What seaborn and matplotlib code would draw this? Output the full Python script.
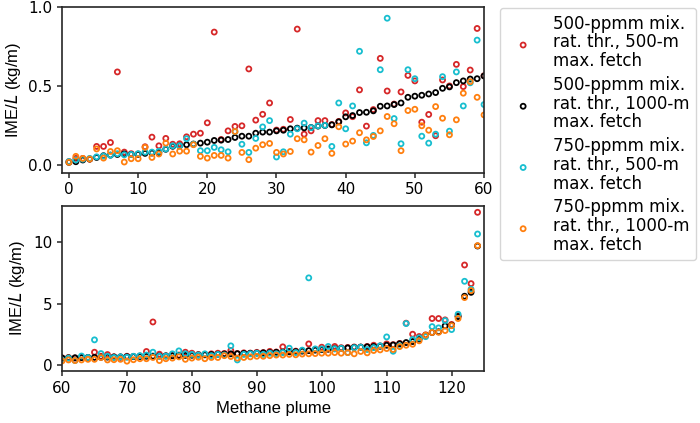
import numpy as np
import pandas as pd
import matplotlib
matplotlib.use("Agg")
import matplotlib.pyplot as plt
import seaborn as sns

# IME/L (kg/m) per methane plume, four settings
ime_500ppmm_500m = [
    0.02, 0.04, 0.04, 0.035, 0.116, 0.116, 0.141, 0.589, 0.08, 0.07,
    0.068, 0.114, 0.175, 0.12, 0.167, 0.13, 0.133, 0.177, 0.194, 0.2,
    0.266, 0.842, 0.16, 0.215, 0.243, 0.247, 0.608, 0.283, 0.32, 0.392,
    0.22, 0.225, 0.287, 0.861, 0.194, 0.215, 0.28, 0.28, 0.255, 0.275,
    0.329, 0.305, 0.475, 0.245, 0.35, 0.675, 0.468, 0.385, 0.462, 0.567,
    0.532, 0.27, 0.319, 0.184, 0.538, 0.5, 0.637, 0.496, 0.601, 0.865,
    0.565, 0.6, 0.55, 0.62, 0.6, 1.03, 0.7, 0.84, 0.66, 0.62,
    0.7, 0.68, 0.72, 1.09, 3.5, 0.87, 0.74, 0.76, 0.8, 1.03,
    0.95, 0.85, 0.84, 0.9, 0.95, 0.93, 1.17, 0.92, 0.98, 0.96,
    1.02, 1.0, 1.1, 1.05, 1.47, 1.1, 1.12, 1.15, 1.71, 1.25,
    1.44, 1.3, 1.5, 1.4, 1.42, 1.46, 1.45, 1.5, 1.6, 1.55,
    1.71, 1.65, 1.75, 3.4, 2.5, 2.31, 2.45, 3.78, 3.78, 3.67,
    3.3, 4.0, 8.15, 6.63, 12.45,
]
ime_500ppmm_1000m = [
    0.015, 0.019, 0.03, 0.036, 0.046, 0.057, 0.061, 0.065, 0.068, 0.065,
    0.066, 0.072, 0.074, 0.078, 0.098, 0.117, 0.12, 0.127, 0.131, 0.137,
    0.143, 0.154, 0.156, 0.16, 0.173, 0.181, 0.181, 0.2, 0.207, 0.207,
    0.215, 0.219, 0.228, 0.232, 0.234, 0.236, 0.245, 0.249, 0.253, 0.272,
    0.304, 0.312, 0.331, 0.333, 0.342, 0.371, 0.373, 0.382, 0.392, 0.428,
    0.435, 0.441, 0.449, 0.458, 0.485, 0.494, 0.521, 0.532, 0.544, 0.546,
    0.563, 0.57, 0.58, 0.59, 0.6, 0.61, 0.62, 0.63, 0.64, 0.65,
    0.66, 0.67, 0.68, 0.7, 0.71, 0.72, 0.73, 0.74, 0.75, 0.77,
    0.78, 0.8, 0.82, 0.84, 0.86, 0.88, 0.9, 0.91, 0.93, 0.94,
    0.96, 0.98, 1.0, 1.02, 1.04, 1.06, 1.08, 1.12, 1.16, 1.2,
    1.24, 1.28, 1.32, 1.35, 1.38, 1.42, 1.45, 1.47, 1.5, 1.52,
    1.6, 1.62, 1.72, 1.82, 1.9, 2.1, 2.4, 2.64, 2.7, 3.18,
    3.23, 3.94, 5.6, 5.92, 9.7,
]
ime_750ppmm_500m = [
    0.02, 0.03, 0.035, 0.04, 0.05, 0.055, 0.06, 0.07, 0.063, 0.065,
    0.07, 0.08, 0.08, 0.085, 0.1, 0.12, 0.12, 0.165, 0.13, 0.089,
    0.089, 0.11, 0.095, 0.082, 0.21, 0.13, 0.078, 0.167, 0.24, 0.28,
    0.049, 0.082, 0.194, 0.228, 0.264, 0.235, 0.247, 0.25, 0.116, 0.392,
    0.228, 0.373, 0.72, 0.139, 0.186, 0.603, 0.93, 0.293, 0.133, 0.603,
    0.546, 0.181, 0.137, 0.194, 0.559, 0.213, 0.589, 0.373, 0.52, 0.791,
    0.382, 0.55, 0.35, 0.72, 0.6, 2.04, 0.92, 0.7, 0.6, 0.65,
    0.62, 0.7, 0.75, 0.8, 1.03, 0.7, 0.72, 0.9, 1.14, 0.9,
    0.85, 0.8, 0.9, 0.75, 0.85, 0.8, 1.55, 0.4, 0.85, 0.9,
    0.95, 0.85, 0.95, 0.9, 1.0, 1.36, 1.0, 1.2, 7.1, 1.3,
    1.3, 1.5, 1.3, 1.35, 1.0, 1.4, 1.44, 1.25, 1.4, 1.55,
    2.28, 1.11, 1.55, 3.37, 2.07, 2.2, 2.3, 3.12, 3.02, 3.61,
    2.88, 4.13, 6.82, 6.17, 10.68,
]
ime_750ppmm_1000m = [
    0.015, 0.053, 0.04, 0.036, 0.1, 0.042, 0.084, 0.089, 0.017, 0.038,
    0.038, 0.11, 0.046, 0.068, 0.137, 0.068, 0.086, 0.086, 0.127, 0.053,
    0.042, 0.059, 0.059, 0.042, 0.211, 0.078, 0.032, 0.105, 0.127, 0.135,
    0.078, 0.068, 0.084, 0.165, 0.158, 0.08, 0.122, 0.165, 0.072, 0.241,
    0.131, 0.15, 0.203, 0.158, 0.179, 0.215, 0.306, 0.26, 0.089, 0.344,
    0.352, 0.247, 0.219, 0.369, 0.295, 0.19, 0.285, 0.454, 0.527, 0.428,
    0.316, 0.4, 0.35, 0.4, 0.45, 0.45, 0.6, 0.4, 0.42, 0.45,
    0.3, 0.42, 0.5, 0.5, 0.6, 0.35, 0.5, 0.55, 0.65, 0.45,
    0.55, 0.62, 0.5, 0.6, 0.6, 0.75, 0.68, 0.55, 0.6, 0.65,
    0.7, 0.7, 0.75, 0.8, 0.8, 0.85, 0.82, 0.88, 0.9, 0.92,
    0.95, 0.95, 1.0, 0.95, 1.0, 0.9, 1.09, 0.98, 1.17, 1.22,
    1.33, 1.25, 1.49, 1.6, 1.68, 1.96, 2.42, 2.64, 2.66, 2.8,
    3.2, 3.78, 5.49, 6.06, 9.73,
]
plume = np.arange(len(ime_500ppmm_1000m))

labels = [
    "500-ppmm mix.\nrat. thr., 500-m\nmax. fetch",
    "500-ppmm mix.\nrat. thr., 1000-m\nmax. fetch",
    "750-ppmm mix.\nrat. thr., 500-m\nmax. fetch",
    "750-ppmm mix.\nrat. thr., 1000-m\nmax. fetch",
]
colors = ["#d62728", "black", "#17becf", "#ff7f0e"]
series = [ime_500ppmm_500m, ime_500ppmm_1000m, ime_750ppmm_500m, ime_750ppmm_1000m]

sns.set_theme(style="ticks")
plt.rcParams["font.family"] = ["DejaVu Sans"]
plt.rcParams["axes.edgecolor"] = "#262626"
plt.rcParams["text.color"] = "black"
plt.rcParams["xtick.labelcolor"] = "black"
plt.rcParams["ytick.labelcolor"] = "black"

fig = plt.figure(figsize=(7, 4.23), dpi=100)
ax1 = fig.add_axes([0.0886, 0.592, 0.6029, 0.391])
ax2 = fig.add_axes([0.0886, 0.123, 0.6029, 0.391])

for ax in (ax1, ax2):
    for vals, c, lab in zip(series, colors, labels):
        sns.scatterplot(x=plume, y=vals, ax=ax, marker="o", s=13,
                        facecolor="none", edgecolor=c, linewidth=1.3,
                        label=lab, legend=False)
    ax.set_ylabel("IME/$L$ (kg/m)", fontsize=12, family="Liberation Sans",
                  color="black")
    ax.tick_params(labelsize=11, length=3.5, width=1.1, color="#262626")
    for sp in ax.spines.values():
        sp.set_linewidth(1.2)

ax1.set_xlim(-1, 60)
ax1.set_ylim(-0.05, 1.0)
ax1.set_xticks(range(0, 61, 10))
ax1.set_yticks([0.0, 0.5, 1.0])
ax1.set_xlabel("")

ax2.set_xlim(60, 125)
ax2.set_ylim(-0.5, 13)
ax2.set_xticks(range(60, 121, 10))
ax2.set_yticks([0, 5, 10])
ax2.set_xlabel("Methane plume", fontsize=12, family="Liberation Sans",
               color="black")

handles = ax1.collections[:4]
leg = fig.legend(handles, labels, loc="upper left", bbox_to_anchor=(0.714, 0.981),
                 borderaxespad=0, fontsize=12, frameon=True, edgecolor="#cccccc",
                 labelspacing=0.35)
for t in leg.get_texts():
    t.set_linespacing(1.05)

fig.savefig("out.png", dpi=100)
